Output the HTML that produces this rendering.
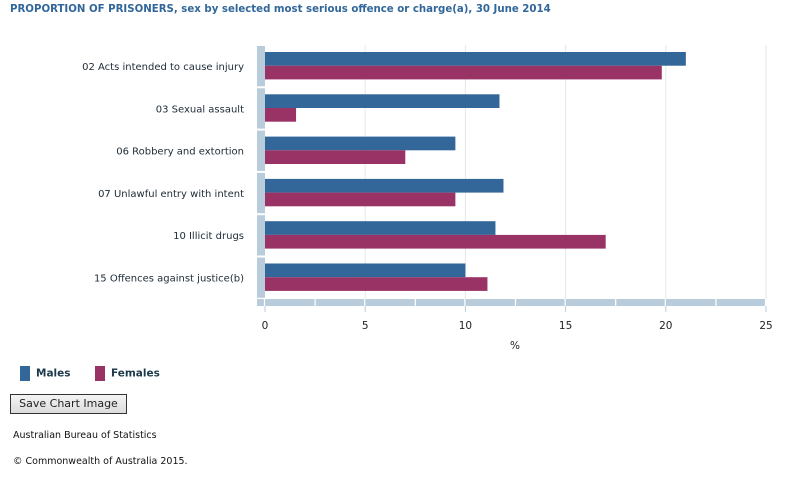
<!DOCTYPE html>
<html><head><meta charset="utf-8"><style>
body{margin:0;width:800px;height:500px;background:#fff;font-family:"DejaVu Sans","Liberation Sans",sans-serif;position:relative;overflow:hidden}
.t{position:absolute;white-space:nowrap}
</style></head><body>
<div class="t" style="left:10px;top:4px;font-size:10.2px;font-weight:bold;color:#31669a">PROPORTION OF PRISONERS, sex by selected most serious offence or charge(a), 30 June 2014</div>
<svg id="c" width="800" height="360" style="position:absolute;left:0;top:0" font-family="DejaVu Sans, Liberation Sans, sans-serif"></svg>
<div class="t" style="left:20px;top:366px;font-size:10.5px;font-weight:bold;color:#1c3a4a"><span style="display:inline-block;width:10px;height:15px;background:#336699;vertical-align:middle;margin-right:6px"></span>Males</div>
<div class="t" style="left:95px;top:366px;font-size:10.5px;font-weight:bold;color:#1c3a4a"><span style="display:inline-block;width:10px;height:15px;background:#993366;vertical-align:middle;margin-right:6px"></span>Females</div>
<div class="t" style="left:10px;top:394px;width:115px;height:18px;border:1px solid #333;background:linear-gradient(#f4f4f4,#dcdcdc);font-size:11px;line-height:18px;text-align:center;color:#222">Save Chart Image</div>
<div class="t" style="left:13px;top:430px;font-size:9.5px;color:#111">Australian Bureau of Statistics</div>
<div class="t" style="left:13px;top:456px;font-size:9.5px;color:#111">© Commonwealth of Australia 2015.</div>
<script>
const categories=["02 Acts intended to cause injury","03 Sexual assault","06 Robbery and extortion","07 Unlawful entry with intent","10 Illicit drugs","15 Offences against justice(b)"];
const males=[21.0,11.7,9.5,11.9,11.5,10.0];
const females=[19.8,1.55,7.0,9.5,17.0,11.1];
const ticks=[0,5,10,15,20,25];
const svg=document.getElementById('c');
const NS='http://www.w3.org/2000/svg';
const x0=265,x1=766,xmax=25,top0=46,pitch=42.3;
const xs=v=>x0+(v/xmax)*(x1-x0);
function el(t,a,p){const e=document.createElementNS(NS,t);for(const k in a)e.setAttribute(k,a[k]);(p||svg).appendChild(e);return e;}
ticks.forEach((t,i)=>{
 if(i>0){const g=el('line',{x1:xs(t),x2:xs(t),y1:45,y2:299,stroke:'#e4e6ea','stroke-width':1});
 
 }
});
const band=el('rect',{x:257,y:299,width:x1-257,height:7,fill:'#b9ccdc'});


ticks.forEach((t,i)=>{
 const s=el('line',{x1:xs(t)-0.5,x2:xs(t)-0.5,y1:299,y2:306,stroke:'#fff','stroke-width':1.2});
 
 
 if(i<ticks.length-1){const s2=el('line',{x1:xs(t+2.5),x2:xs(t+2.5),y1:299,y2:306,stroke:'#fff','stroke-width':1.2});
 
 }
 const tk=el('line',{x1:xs(t),x2:xs(t),y1:306,y2:312,stroke:'#b9ccdc','stroke-width':1});
 
 
 const lb=el('text',{x:xs(t),y:329,'text-anchor':'middle','font-size':10.5,fill:'#222'});lb.textContent=t;
 
 
});
const xt=el('text',{x:515,y:349,'text-anchor':'middle','font-size':10.5,fill:'#222'});xt.textContent='%';


categories.forEach((c,i)=>{
 const gy=top0+i*pitch;
 const b=el('rect',{x:257,y:gy,width:8,height:pitch-2,fill:'#b9ccdc'});
 
 
 const l=el('text',{x:244,y:gy+24,'text-anchor':'end','font-size':10,fill:'#1c2a36'});l.textContent=c;
 
 
 const m=el('rect',{x:x0,y:gy+6,width:xs(males[i])-x0,height:13.7,fill:'#336699'});
 
 
 const f=el('rect',{x:x0,y:gy+19.7,width:xs(females[i])-x0,height:13.7,fill:'#993366'});
 
 
});
</script>
</body></html>
